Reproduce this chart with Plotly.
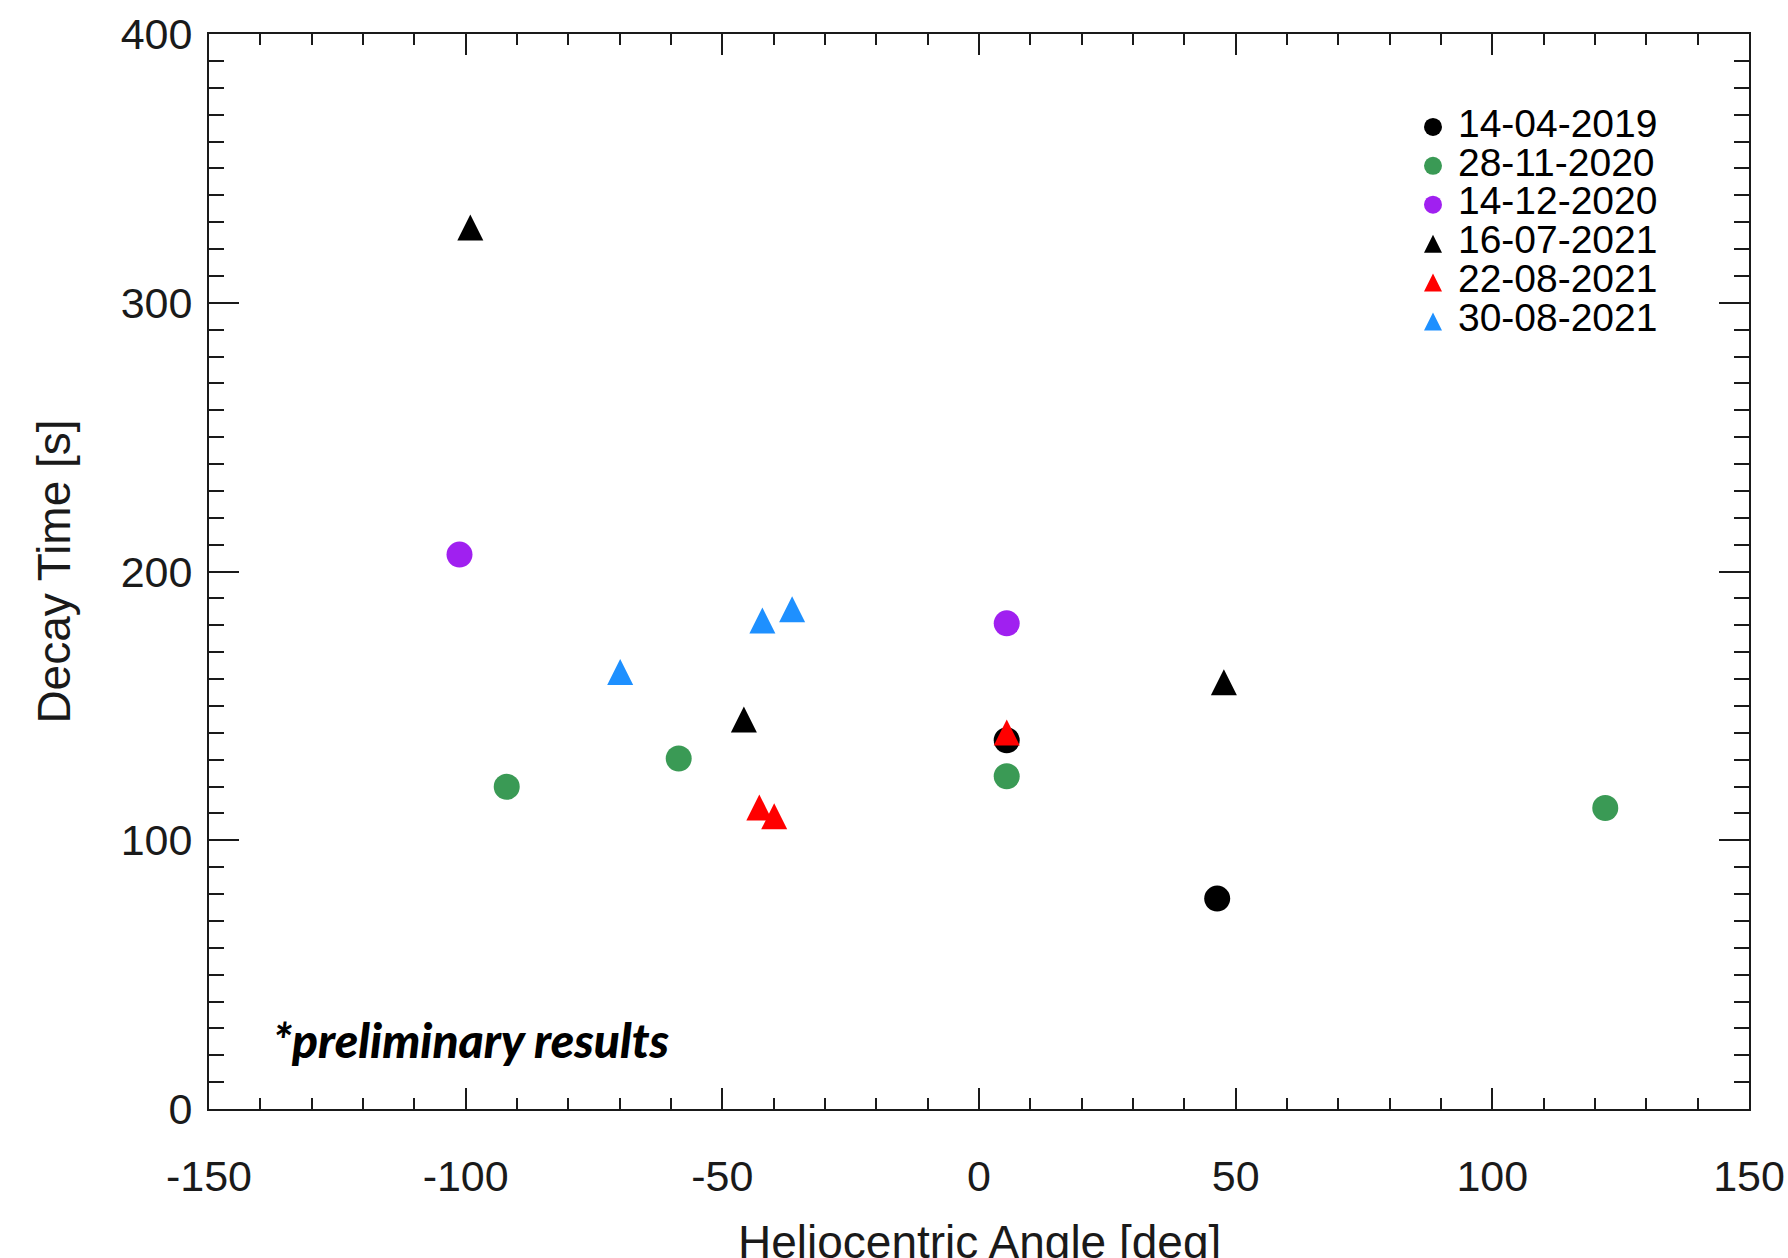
import plotly.graph_objects as go

# ---------------- data ----------------
series_names = ["14-04-2019", "28-11-2020", "14-12-2020", "16-07-2021", "22-08-2021", "30-08-2021"]
series_colors = ["#000000", "#3A9A55", "#A020F0", "#000000", "#FF0000", "#1E90FF"]
series_shapes = ["circle", "circle", "circle", "triangle", "triangle", "triangle"]

angle_140419 = [5.4, 46.4]
decay_140419 = [137.2, 78.3]

angle_281120 = [-92.0, -58.5, 5.4, 122.0]
decay_281120 = [119.9, 130.4, 123.8, 112.0]

angle_141220 = [-101.2, 5.4]
decay_141220 = [206.3, 180.7]

angle_160721 = [-99.1, -45.8, 47.7]
decay_160721 = [326.4, 143.3, 157.2]

angle_220821 = [-42.8, -39.9, 5.4]
decay_220821 = [110.6, 107.3, 138.5]

angle_300821 = [-69.9, -42.2, -36.4]
decay_300821 = [161.0, 180.2, 184.3]

series_x = [angle_140419, angle_281120, angle_141220, angle_160721, angle_220821, angle_300821]
series_y = [decay_140419, decay_281120, decay_141220, decay_160721, decay_220821, decay_300821]

x_range = [-150, 150]
y_range = [0, 400]
x_tickvals = [-150, -100, -50, 0, 50, 100, 150]
x_ticktext = ["-150", "-100", "-50", "0", "50", "100", "150"]
y_tickvals = [0, 100, 200, 300, 400]
y_ticktext = ["0", "100", "200", "300", "400"]
x_title = "Heliocentric Angle [deg]"
y_title = "Decay Time [s]"
note_text = "*preliminary results"

# ---------------- style ----------------
W, H = 1788, 1258
M_L, M_R, M_T, M_B = 209, 39, 34, 149
AX_COLOR = "#1a1a1a"
TICK_FONT = dict(family="Liberation Sans, Arial, Helvetica, sans-serif", size=43, color="#1a1a1a")
TITLE_FONT = dict(family="Liberation Sans, Arial, Helvetica, sans-serif", size=46, color="#1a1a1a")
LEG_FONT = dict(family="Liberation Sans, Arial, Helvetica, sans-serif", size=39, color="#000000")

CIRCLE_SIZE = 26
TRI_SIZE = 26
LEG_CIRCLE = 18
LEG_TRI = 18


def marker_for(shape, color, size, centroid=True):
    if shape == "circle":
        return dict(symbol="circle", size=size, color=color, line=dict(width=0))
    r = size / 2.0
    # arrow-down rotated by 180 gives an upward triangle with equal width/height;
    # standoff recentres it on the data point
    so = 4 * r / 3 if centroid else r
    return dict(symbol="arrow-down", size=size, color=color, angle=180,
                standoff=so, line=dict(width=0))


fig = go.Figure()

for name, color, shape, xs, ys in zip(series_names, series_colors, series_shapes, series_x, series_y):
    size = CIRCLE_SIZE if shape == "circle" else TRI_SIZE
    fig.add_trace(go.Scatter(
        x=xs, y=ys, mode="markers", name=name, showlegend=False,
        marker=marker_for(shape, color, size, centroid=True),
        xaxis="x", yaxis="y",
    ))

# ---- custom legend drawn on an overlay axis (fractions of the plot area) ----
LEG_MARK_X = 0.7948
LEG_TEXT_X = 0.8110
LEG_Y0 = 0.9136
LEG_DY = 0.0362
for i, (name, color, shape) in enumerate(zip(series_names, series_colors, series_shapes)):
    yy = LEG_Y0 - i * LEG_DY
    size = LEG_CIRCLE if shape == "circle" else LEG_TRI
    fig.add_trace(go.Scatter(
        x=[LEG_MARK_X], y=[yy], mode="markers", showlegend=False, hoverinfo="skip",
        marker=marker_for(shape, color, size, centroid=False),
        xaxis="x2", yaxis="y2",
    ))
    fig.add_trace(go.Scatter(
        x=[LEG_TEXT_X], y=[yy], mode="text", text=[name], textposition="middle right",
        textfont=LEG_FONT, showlegend=False, hoverinfo="skip",
        xaxis="x2", yaxis="y2",
    ))

axis_common = dict(
    showline=True, linecolor=AX_COLOR, linewidth=2, mirror="ticks",
    ticks="inside", tickcolor=AX_COLOR, tickwidth=2, automargin=False,
    showgrid=False, zeroline=False, tickfont=TICK_FONT,
)

fig.update_layout(
    width=W, height=H,
    margin=dict(l=M_L, r=M_R, t=M_T, b=M_B, autoexpand=False),
    paper_bgcolor="white", plot_bgcolor="white",
    showlegend=False,
    xaxis=dict(
        range=x_range, tickmode="array", tickvals=x_tickvals, ticktext=x_ticktext, ticklen=21,
        minor=dict(dtick=10, tick0=0, ticklen=11, ticks="inside", tickcolor=AX_COLOR, tickwidth=2, showgrid=False),
        ticklabelstandoff=28,
        **axis_common,
    ),
    yaxis=dict(
        range=y_range, tickmode="array", tickvals=y_tickvals, ticktext=y_ticktext, ticklen=30,
        minor=dict(dtick=10, tick0=0, ticklen=15, ticks="inside", tickcolor=AX_COLOR, tickwidth=2, showgrid=False),
        ticklabelstandoff=6,
        title=dict(text=y_title, font=TITLE_FONT, standoff=36),
        **axis_common,
    ),
    xaxis2=dict(overlaying="x", range=[0, 1], visible=False, fixedrange=True, automargin=False),
    yaxis2=dict(overlaying="y", range=[0, 1], visible=False, fixedrange=True, automargin=False),
    annotations=[
        dict(
            text=note_text, x=-138, y=26, xref="x", yref="y",
            xanchor="left", yanchor="middle", showarrow=False,
            font=dict(family="Lato, Open Sans, sans-serif", size=48, color="#000000",
                      weight=900, style="italic"),
        ),
        dict(  # x-axis title, placed below the tick labels (may run past the bottom edge as in the original)
            text=x_title, x=0.5, y=0, xref="paper", yref="paper",
            xanchor="center", yanchor="middle", yshift=-133, showarrow=False,
            font=TITLE_FONT,
        ),
    ],
)

fig.write_html("out.html", config={"displayModeBar": False},
               post_script="document.body.style.margin='0';")
